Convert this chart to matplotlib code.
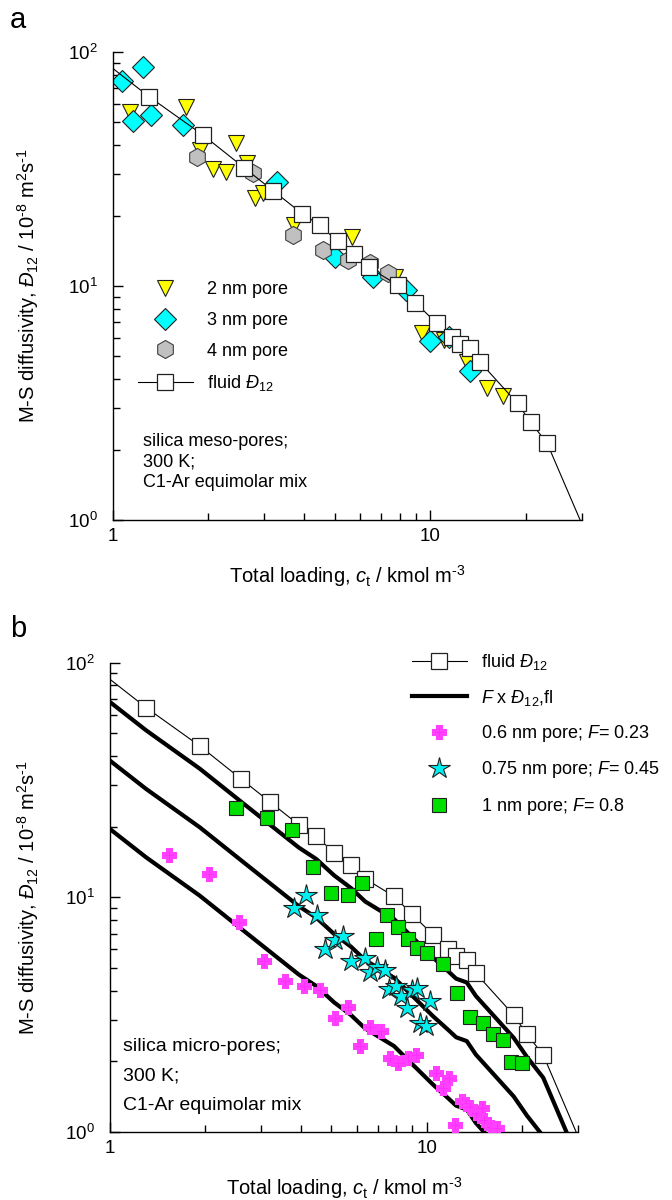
import matplotlib

matplotlib.use("Agg")
import matplotlib.pyplot as plt  # noqa: E402
import matplotlib.ticker as ticker  # noqa: E402
from matplotlib.markers import MarkerStyle  # noqa: E402

plt.rcParams["font.family"] = ["Liberation Sans", "DejaVu Sans"]
plt.rcParams["mathtext.fontset"] = "custom"
plt.rcParams["mathtext.rm"] = "Liberation Sans"
plt.rcParams["mathtext.it"] = "Liberation Sans:italic"
plt.rcParams["mathtext.bf"] = "Liberation Sans:bold"

# fluid phase M-S diffusivity (same in both panels); first / last entries are the line ends
fluid_ct = [1.0, 1.30, 1.92, 2.59, 3.20, 3.94, 4.48, 5.10, 5.76, 6.39, 7.88, 8.97,
            10.45, 11.7, 12.37, 13.37, 14.28, 18.8, 20.7, 23.3, 29.6]
fluid_d12 = [85.0, 64.4, 44.2, 32.0, 25.5, 20.4, 18.2, 15.5, 13.7, 12.0, 10.1, 8.49,
             6.93, 6.04, 5.63, 5.42, 4.75, 3.15, 2.61, 2.13, 1.0]

# panel a: meso-pores
pore2_ct = [1.13, 1.70, 2.44, 1.88, 2.07, 2.27, 2.64, 2.81, 2.98, 3.73, 5.66, 7.76,
            9.41, 11.07, 13.05, 15.1, 16.9]
pore2_d = [55.6, 58.4, 41.0, 38.1, 31.5, 30.8, 33.5, 23.7, 24.9, 18.2, 16.2, 10.96,
           6.28, 5.88, 4.75, 3.65, 3.39]
pore3_ct = [1.07, 1.24, 1.154, 1.32, 1.66, 3.28, 5.01, 6.6, 8.4, 9.95, 11.4, 13.3]
pore3_d = [75.2, 86.5, 50.9, 53.8, 48.8, 27.9, 13.3, 10.9, 9.6, 5.82, 6.07, 4.35]
pore4_ct = [1.84, 2.77, 3.68, 4.59, 5.52, 6.47, 7.34]
pore4_d = [35.7, 30.3, 16.5, 14.3, 12.9, 12.5, 11.4]

# panel b: micro-pores
F_values = [0.8, 0.45, 0.23]
pore06_ct = [1.54, 2.05, 2.56, 3.07, 3.58, 4.09, 4.60, 5.13, 5.62, 6.15, 6.61, 7.16,
             7.64, 8.12, 8.73, 9.23, 10.67, 11.75, 11.26, 12.25, 12.9, 13.3, 13.7,
             14.3, 14.9, 15.1, 16.0, 16.6]
pore06_d = [15.2, 12.6, 7.88, 5.38, 4.38, 4.17, 4.03, 3.05, 3.42, 2.33, 2.81, 2.70,
            2.06, 1.96, 2.06, 2.13, 1.78, 1.69, 1.54, 1.07, 1.35, 1.32, 1.28,
            1.20, 1.26, 1.12, 1.05, 1.04]
pore075_ct = [4.15, 3.81, 4.49, 4.77, 5.13, 5.42, 5.75, 6.37, 6.64, 6.97, 7.37, 7.60,
              8.02, 8.26, 8.63, 8.95, 9.28, 10.2, 9.55, 9.93]
pore075_d = [10.25, 9.0, 8.42, 6.01, 6.59, 6.85, 5.33, 5.51, 4.83, 5.07, 4.91, 4.06,
             4.19, 3.80, 3.37, 4.03, 4.10, 3.63, 2.92, 2.83]
pore1_ct = [2.49, 3.12, 3.74, 4.38, 5.0, 5.62, 6.25, 7.50, 8.12, 6.89, 8.73, 9.32,
            9.98, 11.26, 12.46, 13.73, 15.0, 16.2, 17.4, 18.5, 20.0]
pore1_d = [24.0, 21.8, 19.4, 13.5, 10.4, 10.25, 11.5, 8.42, 7.51, 6.63, 6.63, 6.07,
           5.82, 5.19, 3.90, 3.08, 2.91, 2.62, 2.47, 1.995, 1.96]

YLABEL = r"M-S diffusivity, $\mathit{Đ}_{12}$ / 10$^{\text{-8}}$ m$^2$s$^{\text{-1}}$"
XLABEL = r"Total loading, $\mathit{c}_{\rm t}$ / kmol m$^{\text{-3}}$"
FS = 13
LFS = 14.5


def style_axes(ax, ylab_x):
    ax.set_xscale("log")
    ax.set_yscale("log")
    ax.set_xlim(1, 30)
    ax.set_ylim(1, 100)
    for side in ("top", "right"):
        ax.spines[side].set_visible(False)
    for side in ("left", "bottom"):
        ax.spines[side].set_linewidth(1.0)
    ax.xaxis.set_major_formatter(ticker.FuncFormatter(lambda v, p: f"{v:g}"))
    ax.xaxis.set_minor_formatter(ticker.NullFormatter())
    ax.yaxis.set_minor_formatter(ticker.NullFormatter())
    ax.tick_params(which="both", direction="in", labelsize=FS + 0.5, width=1.0)
    ax.tick_params(which="major", length=7.5)
    ax.tick_params(which="minor", length=5)
    ax.tick_params(axis="y", pad=11)
    ax.tick_params(axis="x", pad=6)
    ax.set_ylabel(YLABEL, fontsize=LFS)
    ax.set_xlabel(XLABEL, fontsize=LFS, va="top")
    ax.yaxis.set_label_coords(ylab_x, 0.5)
    ax.xaxis.set_label_coords(0.5, -0.092)


fig = plt.figure(figsize=(6.72, 12), dpi=100)
ax_a = fig.add_axes([0.168, 0.5667, 0.698, 0.39])
ax_b = fig.add_axes([0.1637, 0.0567, 0.6964, 0.391])

edge = dict(markeredgecolor="#202020", markeredgewidth=0.8, linestyle="none")

# ---- panel a ----
ax_a.plot(pore2_ct, pore2_d, marker="v", markersize=12, markerfacecolor="#ffff00",
          label="2 nm pore", **edge)
ax_a.plot(pore3_ct, pore3_d, marker="D", markersize=11, markerfacecolor="#00ffff",
          label="3 nm pore", **edge)
ax_a.plot(pore4_ct, pore4_d, marker="h", markersize=13, markerfacecolor="#c0c0c0",
          markeredgecolor="#404040", markeredgewidth=0.8, linestyle="none", label="4 nm pore")
ax_a.plot(fluid_ct, fluid_d12, color="black", linewidth=0.8, marker="s", markersize=11,
          markerfacecolor="white", markeredgecolor="#202020", markeredgewidth=0.9,
          markevery=list(range(1, len(fluid_ct) - 1)), label=r"fluid $\mathit{Đ}_{12}$")
style_axes(ax_a, -0.153)
ax_a.legend(loc="upper left", bbox_to_anchor=(0.053, 0.51), frameon=False, fontsize=FS,
            borderpad=0, borderaxespad=0, handlelength=3.05, handletextpad=0.8,
            labelspacing=0.76)
ax_a.text(0.064, 0.124, "silica meso-pores;\n300 K;\nC1-Ar equimolar mix",
          transform=ax_a.transAxes, fontsize=FS, va="center", ha="left", linespacing=1.27)

# ---- panel b ----
ax_b.plot(fluid_ct, fluid_d12, color="black", linewidth=0.8, marker="s", markersize=11,
          markerfacecolor="white", markeredgecolor="#202020", markeredgewidth=0.9,
          markevery=list(range(1, len(fluid_ct) - 1)), label=r"fluid $\mathit{Đ}_{12}$",
          zorder=3)
for i, F in enumerate(F_values):
    ax_b.plot(fluid_ct, [F * d for d in fluid_d12], color="black", linewidth=3.0,
              label=r"$\mathit{F}$ x $\mathit{Đ}_{12}$,fl" if i == 0 else None, zorder=2)
ax_b.plot(pore06_ct, pore06_d, marker=MarkerStyle("P", joinstyle="miter"), markersize=8.5,
          markerfacecolor="#ff2cff", markeredgecolor="#ff40ff", markeredgewidth=2.2,
          linestyle="none", label=r"0.6 nm pore; $\mathit{F}$= 0.23", zorder=4)
ax_b.plot(pore075_ct, pore075_d, marker="*", markersize=16, markerfacecolor="#00f0f0",
          label=r"0.75 nm pore; $\mathit{F}$= 0.45", zorder=4, **edge)
ax_b.plot(pore1_ct, pore1_d, marker="s", markersize=10.5, markerfacecolor="#00e000",
          label=r"1 nm pore; $\mathit{F}$= 0.8", zorder=4, **edge)
style_axes(ax_b, -0.147)
ax_b.legend(loc="upper left", bbox_to_anchor=(0.645, 1.022), frameon=False, fontsize=FS,
            borderpad=0, borderaxespad=0, handlelength=3.05, handletextpad=0.8,
            labelspacing=0.85)
ax_b.text(0.028, 0.119, "silica micro-pores;\n300 K;\nC1-Ar equimolar mix",
          transform=ax_b.transAxes, fontsize=14, va="center", ha="left", linespacing=1.95)

fig.text(10 / 672, 1 - 28 / 1200, "a", fontsize=21, va="baseline", ha="left")
fig.text(10 / 672, 1 - 637 / 1200, "b", fontsize=21, va="baseline", ha="left")

fig.savefig("out.png", dpi=100)
